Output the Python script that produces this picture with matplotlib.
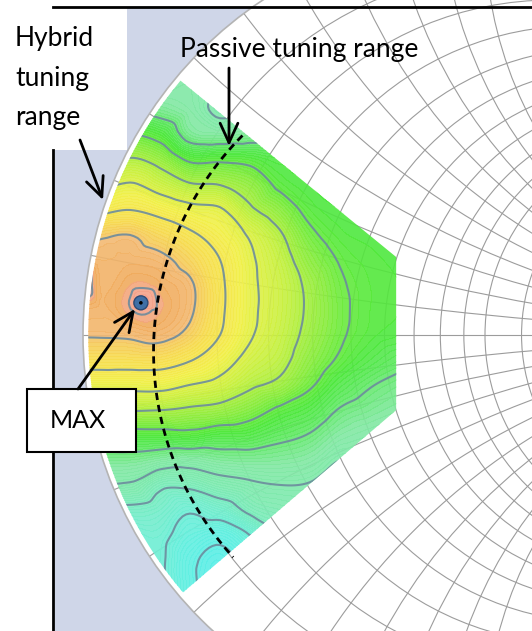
import numpy as np
import matplotlib
matplotlib.use("Agg")
import matplotlib.pyplot as plt
import matplotlib.tri as mtri
from matplotlib.patches import Circle, Rectangle, PathPatch, FancyArrowPatch
from matplotlib.path import Path
from matplotlib.transforms import Affine2D
from matplotlib.colors import LinearSegmentedColormap, Normalize

plt.rcParams['font.family'] = ['Lato', 'DejaVu Sans']

# Smith chart grid (normalised resistance circles / reactance arcs)
r_circles = [0.1, 0.2, 0.3, 0.4, 0.5, 0.6, 0.7, 0.8, 0.9, 1.0, 1.2, 1.4, 1.6, 1.8, 2.0, 3.0, 4.0, 5.0]
x_arcs = [0.1, 0.2, 0.3, 0.4, 0.5, 0.6, 0.7, 0.8, 0.9, 1.0, 1.2, 1.4, 1.6, 1.8, 2.0, 3.0, 4.0, 5.0]

# measured power map, sampled on a Gamma grid (rows top -> bottom)
gamma_re = [-1.032, -0.958, -0.883, -0.808, -0.734, -0.659, -0.585, -0.510, -0.435, -0.361, -0.286, -0.211]
gamma_im = [0.684, 0.622, 0.560, 0.498, 0.435, 0.373, 0.311, 0.249, 0.187, 0.124, 0.062, 0.0,
            -0.062, -0.124, -0.187, -0.249, -0.311, -0.373, -0.435, -0.498, -0.560, -0.622, -0.684]
power_cols = [
    [2.0, 2.6, 3.4, 4.4, 5.5, 6.7, 7.7, 8.6, 9.1, 9.5, 9.3, 9.05, 8.4, 7.3, 6.05, 4.7, 3.7, 3.0, 1.8, 1.0, 0.8, 0.8, 0.8],
    [2.2, 2.8, 3.6, 4.5, 5.6, 6.8, 7.8, 8.9, 9.2, 9.3, 9.25, 9.05, 8.4, 7.3, 6.05, 4.7, 3.7, 3.0, 1.8, 1.0, 0.8, 0.8, 0.8],
    [2.6, 3.1, 3.9, 5.0, 6.1, 7.1, 8.0, 9.0, 9.25, 9.5, 9.58, 9.1, 8.4, 7.3, 6.05, 4.7, 3.7, 2.9, 1.8, 1.1, 0.9, 0.9, 0.9],
    [2.8, 3.2, 3.7, 4.7, 5.7, 6.6, 7.7, 8.6, 9.15, 9.42, 9.52, 9.2, 8.4, 7.3, 6.0, 4.7, 3.5, 2.2, 1.6, 1.2, 1.1, 1.1, 1.1],
    [3.2, 3.3, 3.4, 3.7, 4.9, 6.1, 7.3, 8.15, 8.7, 9.1, 9.1, 8.8, 8.05, 7.0, 5.85, 4.75, 3.4, 2.2, 1.1, 0.6, 0.2, 0.2, 0.3],
    [3.2, 3.0, 2.85, 3.55, 4.9, 6.0, 7.1, 7.6, 8.0, 8.15, 8.15, 8.0, 7.45, 6.7, 5.7, 4.55, 3.6, 2.6, 1.5, 0.3, -0.3, -0.4, -0.4],
    [3.5, 3.5, 3.4, 3.7, 4.8, 5.6, 6.15, 6.9, 7.15, 7.2, 7.2, 7.1, 6.7, 6.15, 5.35, 4.5, 3.65, 2.85, 2.2, 1.0, 0.5, 0.5, 0.5],
    [4.0, 4.0, 4.1, 4.3, 4.55, 4.85, 5.5, 6.1, 6.4, 6.55, 6.55, 6.45, 6.25, 5.8, 4.85, 4.2, 3.6, 3.0, 2.5, 2.0, 1.8, 1.8, 1.8],
    [4.2, 4.2, 4.3, 4.4, 4.5, 4.6, 4.8, 5.15, 5.5, 5.8, 5.85, 5.75, 5.5, 5.1, 4.5, 3.95, 3.45, 2.95, 2.6, 2.3, 2.2, 2.2, 2.2],
    [4.3, 4.3, 4.35, 4.4, 4.45, 4.5, 4.6, 4.75, 4.95, 5.1, 5.15, 5.1, 4.9, 4.45, 3.95, 3.5, 3.0, 2.6, 2.4, 2.3, 2.3, 2.3, 2.3],
    [4.35, 4.35, 4.4, 4.4, 4.45, 4.5, 4.55, 4.65, 4.75, 4.8, 4.8, 4.75, 4.5, 4.05, 3.7, 3.3, 3.0, 2.7, 2.5, 2.4, 2.4, 2.4, 2.4],
    [4.35, 4.35, 4.4, 4.4, 4.45, 4.5, 4.55, 4.6, 4.65, 4.7, 4.7, 4.6, 4.2, 3.8, 3.5, 3.2, 2.9, 2.7, 2.5, 2.4, 2.4, 2.4, 2.4],
]
# extra samples: the maximum and the small peak at the chart edge
extra_re = [-0.856, -0.995]
extra_im = [0.080, 0.132]
extra_val = [9.9, 9.8]
contour_levels = [0, 1, 2, 3, 4, 5, 6, 7, 8, 9, 9.6]

# measured area (Gamma) and passive tuner boundary (Gamma)
region_re = [-0.759, -0.221, -0.221, -0.759]
region_im = [0.634, 0.194, -0.187, -0.647]
passive_re = [-0.592, -0.751, -0.789, -0.813, -0.816, -0.789, -0.751, -0.697, -0.642]
passive_im = [0.485, 0.328, 0.236, 0.070, -0.080, -0.236, -0.331, -0.453, -0.567]
max_point = (-0.856, 0.080)

# colours along the power scale
cmap_values = [-0.5, 0.5, 1.5, 2.5, 3.5, 4.2, 4.7, 5.5, 6.5, 7.5, 8.5, 8.95, 9.05, 9.5, 9.62, 10.0]
cmap_colors = ['#58eee8', '#64efe0', '#74edcc', '#7eeab2', '#82e8a2', '#5ce85c', '#4ee83c',
               '#8aec3e', '#c8f040', '#f2f04a', '#f7dc50', '#f5ca5e', '#f3ba72', '#f0aa5c',
               '#f4a488', '#f4a090']

fig = plt.figure(figsize=(5.32, 6.31), dpi=100)
ax = fig.add_axes([0, 0, 1, 1])
ax.set_xlim(0, 532)
ax.set_ylim(631, 0)
ax.axis('off')

# chart coordinates (Gamma) -> picture
g2px = Affine2D().scale(402, -402).translate(485, 335) + ax.transData

ax.add_patch(Rectangle((55, 8), 477, 623, fc='#cfd6e8', ec='none', zorder=0))
unit = Circle((0, 0), 1, transform=g2px, fc='white', ec='none', zorder=1)
ax.add_patch(unit)

grid_kw = dict(transform=g2px, fill=False, ec='#9c9c9c', lw=0.8, zorder=2)
for r in r_circles:
    c = ax.add_patch(Circle((r / (1 + r), 0), 1 / (1 + r), **grid_kw))
    c.set_clip_path(unit)
for x in x_arcs:
    for s in (1, -1):
        c = ax.add_patch(Circle((1, s / x), 1 / x, **grid_kw))
        c.set_clip_path(unit)
ax.plot([-1, 1], [0, 0], color='#9c9c9c', lw=0.8, transform=g2px, zorder=2)

# clip path of measured area
a0 = np.arctan2(region_im[0], region_re[0])
a1 = np.arctan2(region_im[3], region_re[3]) % (2 * np.pi)
arc_t = np.linspace(a1, a0, 40)
verts = list(zip(region_re, region_im)) + list(zip(0.987 * np.cos(arc_t), 0.987 * np.sin(arc_t)))
verts.append(verts[0])
region = PathPatch(Path(verts), transform=g2px, fc='none', ec='none', zorder=3)
ax.add_patch(region)

X, Y = np.meshgrid(gamma_re, gamma_im)
Z = np.array(power_cols).T
px_re = np.concatenate([X.ravel(), extra_re])
px_im = np.concatenate([Y.ravel(), extra_im])
pz = np.concatenate([Z.ravel(), extra_val])
tri = mtri.Triangulation(px_re, px_im)
interp = mtri.CubicTriInterpolator(tri, pz, kind='geom')
tri_f, z_f = mtri.UniformTriRefiner(tri).refine_field(pz, triinterpolator=interp, subdiv=3)

vmin, vmax = -0.5, 10.0
cmap = LinearSegmentedColormap.from_list(
    'tuner', [((v - vmin) / (vmax - vmin), c) for v, c in zip(cmap_values, cmap_colors)])
fill = ax.tricontourf(tri_f, z_f, levels=np.linspace(-1.5, 11, 126), cmap=cmap,
                      norm=Normalize(vmin, vmax), extend='both', transform=g2px,
                      zorder=3, alpha=0.9)
fill.set_clip_path(region)
lines = ax.tricontour(tri_f, z_f, levels=contour_levels, colors='#6d8c9e', linewidths=1.5,
                      transform=g2px, zorder=4, alpha=0.9)
lines.set_clip_path(region)

ax.add_patch(Circle((0, 0), 1, transform=g2px, fill=False, ec='#b4b4b4', lw=1.2, zorder=4))

# passive tuning range: circle fitted to the read boundary
pr, pi = np.array(passive_re), np.array(passive_im)
A = np.column_stack([pr, pi, np.ones_like(pr)])
D, E, F = np.linalg.lstsq(A, -(pr ** 2 + pi ** 2), rcond=None)[0]
pc = (-D / 2, -E / 2)
prad = np.sqrt(pc[0] ** 2 + pc[1] ** 2 - F)
t0 = np.arctan2(pi[0] - pc[1], pr[0] - pc[0])
t1 = np.arctan2(pi[-1] - pc[1], pr[-1] - pc[0]) % (2 * np.pi)
t = np.linspace(t0, t1, 100)
ax.plot(pc[0] + prad * np.cos(t), pc[1] + prad * np.sin(t), color='black', lw=2,
        dashes=(2.6, 1.8), transform=g2px, zorder=5)

# MAX marker
ax.add_patch(Circle(max_point, 7 / 402, transform=g2px, fc='#3f6fa6', ec='#2b4a75', lw=1, zorder=8))
ax.add_patch(Circle(max_point, 1.8 / 402, transform=g2px, fc='black', ec='none', zorder=9))

# frame lines and labels
ax.add_patch(Rectangle((0, 8), 127, 142, fc='white', ec='none', zorder=6))
ax.plot([53, 532], [7, 7], color='black', lw=2, zorder=7)
ax.plot([53, 53], [150, 631], color='black', lw=2, zorder=7)

for s, yb in zip(['Hybrid', 'tuning', 'range'], [46, 86, 125]):
    ax.text(15, yb, s, fontsize=19, va='baseline', ha='left', zorder=8)
ax.text(180, 57, 'Passive tuning range', fontsize=19, va='baseline', ha='left', zorder=8)

ax.add_patch(Rectangle((27, 389), 109, 63, fc='white', ec='black', lw=1.5, zorder=7))
ax.text(78, 428, 'MAX', fontsize=18, va='baseline', ha='center', zorder=8)

arrow_kw = dict(arrowstyle='->,head_length=0.7,head_width=0.32', mutation_scale=20,
                color='black', lw=2, zorder=8, shrinkA=0, shrinkB=0)
ax.add_patch(FancyArrowPatch((80, 140), (103, 200), **arrow_kw))
ax.add_patch(FancyArrowPatch((229, 68), (229, 146), **arrow_kw))
ax.add_patch(FancyArrowPatch((78, 389), (135, 309), **arrow_kw))

plt.savefig('out.png', dpi=100)
